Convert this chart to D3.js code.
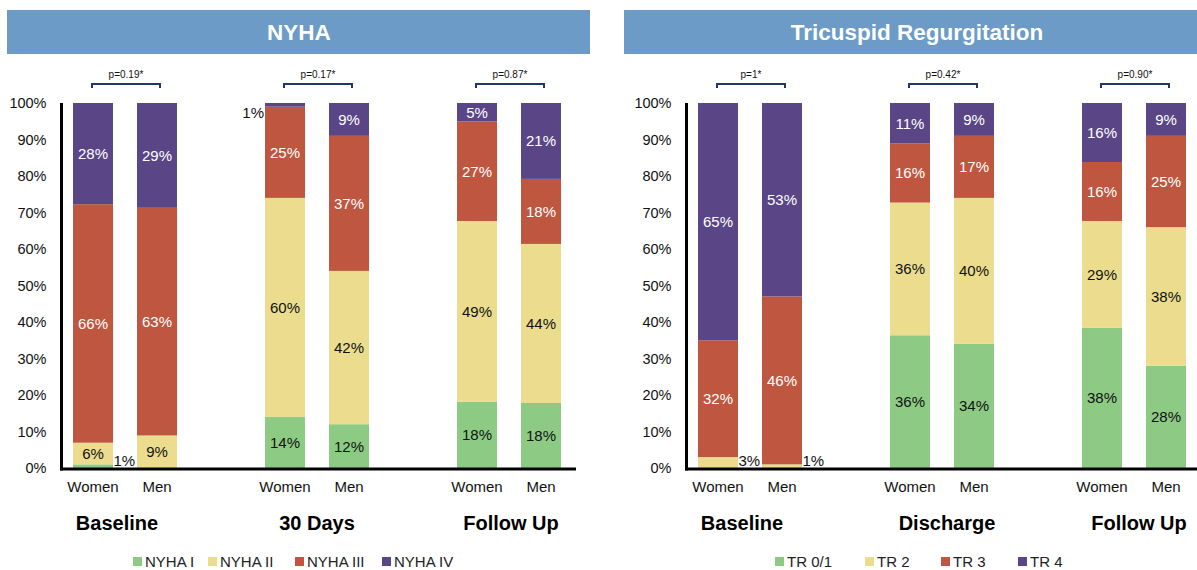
<!DOCTYPE html>
<html>
<head>
<meta charset="utf-8">
<script src="https://cdn.jsdelivr.net/npm/d3@7"></script>
<style>
  body { margin: 0; background: #fff; }
  svg { display: block; font-family: "Liberation Sans", Arial, sans-serif; }
</style>
</head>
<body>
<svg id="chart" width="1197" height="570"></svg>
<script>
// ---- Data -------------------------------------------------------------
const sexes = ["Women", "Men"];

// NYHA class distribution (%), bars ordered:
// Baseline W, Baseline M, 30 Days W, 30 Days M, Follow Up W, Follow Up M
const nyhaTimepoints = ["Baseline", "30 Days", "Follow Up"];
const nyhaClasses = ["NYHA I", "NYHA II", "NYHA III", "NYHA IV"];
const nyhaI   = [1, 0, 14, 12, 18, 18];
const nyhaII  = [6, 9, 60, 42, 49, 44];
const nyhaIII = [66, 63, 25, 37, 27, 18];
const nyhaIV  = [28, 29, 1, 9, 5, 21];
const nyhaPValues = ["p=0.19*", "p=0.17*", "p=0.87*"];

// Tricuspid regurgitation grade distribution (%), same bar order
const trTimepoints = ["Baseline", "Discharge", "Follow Up"];
const trGrades = ["TR 0/1", "TR 2", "TR 3", "TR 4"];
const tr01 = [0, 0, 36, 34, 38, 28];
const tr2  = [3, 1, 36, 40, 29, 38];
const tr3  = [32, 46, 16, 17, 16, 25];
const tr4  = [65, 53, 11, 9, 16, 9];
const trPValues = ["p=1*", "p=0.42*", "p=0.90*"];

const yTickValues = [0, 10, 20, 30, 40, 50, 60, 70, 80, 90, 100];

// ---- Styling ----------------------------------------------------------
const seriesColors = ["#8dcb84", "#ebdd8d", "#bf5740", "#5a4687"];
const labelColors  = ["#111", "#111", "#fff", "#fff"];
const headerColor = "#6b9bc6";
const bracketColor = "#1f3864";

const svg = d3.select("#chart");

const plotTop = 103, plotBottom = 468;
const y = d3.scaleLinear().domain([0, 1]).range([plotBottom, plotTop]);

function drawPanel(cfg) {
  const g = svg.append("g");

  // header band
  g.append("rect")
    .attr("x", cfg.headerX0).attr("y", 10)
    .attr("width", cfg.headerX1 - cfg.headerX0).attr("height", 44)
    .attr("fill", headerColor);
  g.append("text")
    .attr("x", cfg.titleX).attr("y", 32)
    .attr("dy", "0.36em")
    .attr("text-anchor", "middle")
    .attr("fill", "#fff")
    .attr("font-weight", "bold")
    .attr("font-size", 22.5)
    .text(cfg.title);

  // slots: Women, Men, spacer, Women, Men, spacer, Women, Men
  const slots = [];
  cfg.timepoints.forEach((tp, i) => {
    sexes.forEach(s => slots.push(tp + "|" + s));
    if (i < cfg.timepoints.length - 1) slots.push("gap" + i);
  });
  const x = d3.scaleBand()
    .domain(slots)
    .range([cfg.x0, cfg.x0 + 512])
    .paddingInner(0.375)
    .paddingOuter(0.1875);

  // rows for stacking
  const rows = [];
  cfg.timepoints.forEach((tp, ti) => {
    sexes.forEach((s, si) => {
      const idx = ti * 2 + si;
      const row = { slot: tp + "|" + s };
      cfg.keys.forEach((k, ki) => { row[k] = cfg.series[ki][idx]; });
      rows.push(row);
    });
  });

  const stacked = d3.stack()
    .keys(cfg.keys)
    .offset(d3.stackOffsetExpand)(rows);

  // bars
  stacked.forEach((layer, li) => {
    g.append("g")
      .attr("fill", seriesColors[li])
      .selectAll("rect")
      .data(layer)
      .join("rect")
      .attr("x", d => x(d.data.slot))
      .attr("width", x.bandwidth())
      .attr("y", d => y(d[1]))
      .attr("height", d => Math.max(0, y(d[0]) - y(d[1])));
  });

  // value labels
  stacked.forEach((layer, li) => {
    const key = cfg.keys[li];
    layer.forEach(d => {
      const v = d.data[key];
      if (!v) return;
      const bx = x(d.data.slot);
      const t = g.append("text")
        .attr("font-size", 15)
        .attr("dy", "0.36em")
        .text(v + "%");
      if (v < 4) {
        // slivers get their label beside the bar
        if (li === cfg.keys.length - 1) {
          t.attr("x", bx - 1).attr("y", y(1) + 10)
            .attr("text-anchor", "end").attr("fill", "#111");
        } else {
          t.attr("x", bx + x.bandwidth() + 0.5).attr("y", y(0) - 7)
            .attr("text-anchor", "start").attr("fill", "#111");
        }
      } else {
        t.attr("x", bx + x.bandwidth() / 2)
          .attr("y", y((d[0] + d[1]) / 2))
          .attr("text-anchor", "middle")
          .attr("fill", labelColors[li]);
      }
    });
  });

  // y axis
  const yAxis = d3.axisLeft(d3.scaleLinear().domain([0, 100]).range([plotBottom, plotTop]))
    .tickValues(yTickValues)
    .tickSize(0)
    .tickPadding(15)
    .tickFormat(d => d + "%");
  const ya = g.append("g")
    .attr("transform", `translate(${cfg.x0 + 0.5},0)`)
    .call(yAxis);
  ya.select(".domain").remove();
  ya.selectAll("text")
    .attr("font-size", 14.5)
    .attr("font-family", "'Liberation Sans', Arial, sans-serif")
    .attr("fill", "#111");

  // axis lines
  g.append("line")
    .attr("x1", cfg.x0 + 0.5).attr("x2", cfg.x0 + 0.5)
    .attr("y1", plotTop).attr("y2", plotBottom + 2.5)
    .attr("stroke", "#000").attr("stroke-width", 3);
  g.append("line")
    .attr("x1", cfg.x0 - 1).attr("x2", cfg.axisEnd)
    .attr("y1", plotBottom + 1).attr("y2", plotBottom + 1)
    .attr("stroke", "#000").attr("stroke-width", 3.2);

  // category labels
  rows.forEach(r => {
    g.append("text")
      .attr("x", x(r.slot) + x.bandwidth() / 2)
      .attr("y", 487)
      .attr("dy", "0.36em")
      .attr("text-anchor", "middle")
      .attr("font-size", 15)
      .attr("fill", "#111")
      .text(r.slot.split("|")[1]);
  });

  // timepoint labels, p-value brackets
  cfg.timepoints.forEach((tp, i) => {
    const wc = x(tp + "|Women") + x.bandwidth() / 2;
    const mc = x(tp + "|Men") + x.bandwidth() / 2;
    g.append("text")
      .attr("x", (wc + mc) / 2 + cfg.groupLabelShift[i])
      .attr("y", 523)
      .attr("dy", "0.36em")
      .attr("text-anchor", "middle")
      .attr("font-size", 20)
      .attr("font-weight", "bold")
      .attr("fill", "#000")
      .text(tp);

    const bx0 = wc - 1, bx1 = mc + 3;
    g.append("path")
      .attr("d", `M${bx0},88V84H${bx1}V88`)
      .attr("fill", "none")
      .attr("stroke", bracketColor)
      .attr("stroke-width", 2);
    g.append("text")
      .attr("x", (bx0 + bx1) / 2)
      .attr("y", 74)
      .attr("dy", "0.36em")
      .attr("text-anchor", "middle")
      .attr("font-size", 10)
      .attr("fill", "#111")
      .text(cfg.pValues[i]);
  });

  // legend
  cfg.keys.forEach((k, i) => {
    const lx = cfg.legendX[i];
    g.append("rect")
      .attr("x", lx).attr("y", 557)
      .attr("width", 9).attr("height", 9)
      .attr("fill", seriesColors[i]);
    g.append("text")
      .attr("x", lx + 12).attr("y", 561.5)
      .attr("dy", "0.36em")
      .attr("font-size", 15)
      .attr("fill", "#222")
      .text(k);
  });
}

drawPanel({
  title: "NYHA",
  headerX0: 7, headerX1: 590, titleX: 299,
  x0: 61, axisEnd: 576,
  timepoints: nyhaTimepoints,
  keys: nyhaClasses,
  series: [nyhaI, nyhaII, nyhaIII, nyhaIV],
  pValues: nyhaPValues,
  groupLabelShift: [-8, 0, 2],
  legendX: [133, 208, 295, 382]
});

drawPanel({
  title: "Tricuspid Regurgitation",
  headerX0: 624, headerX1: 1210, titleX: 917,
  x0: 686, axisEnd: 1197,
  timepoints: trTimepoints,
  keys: trGrades,
  series: [tr01, tr2, tr3, tr4],
  pValues: trPValues,
  groupLabelShift: [-8, 5, 5],
  legendX: [775, 865, 941, 1018]
});
</script>
</body>
</html>
